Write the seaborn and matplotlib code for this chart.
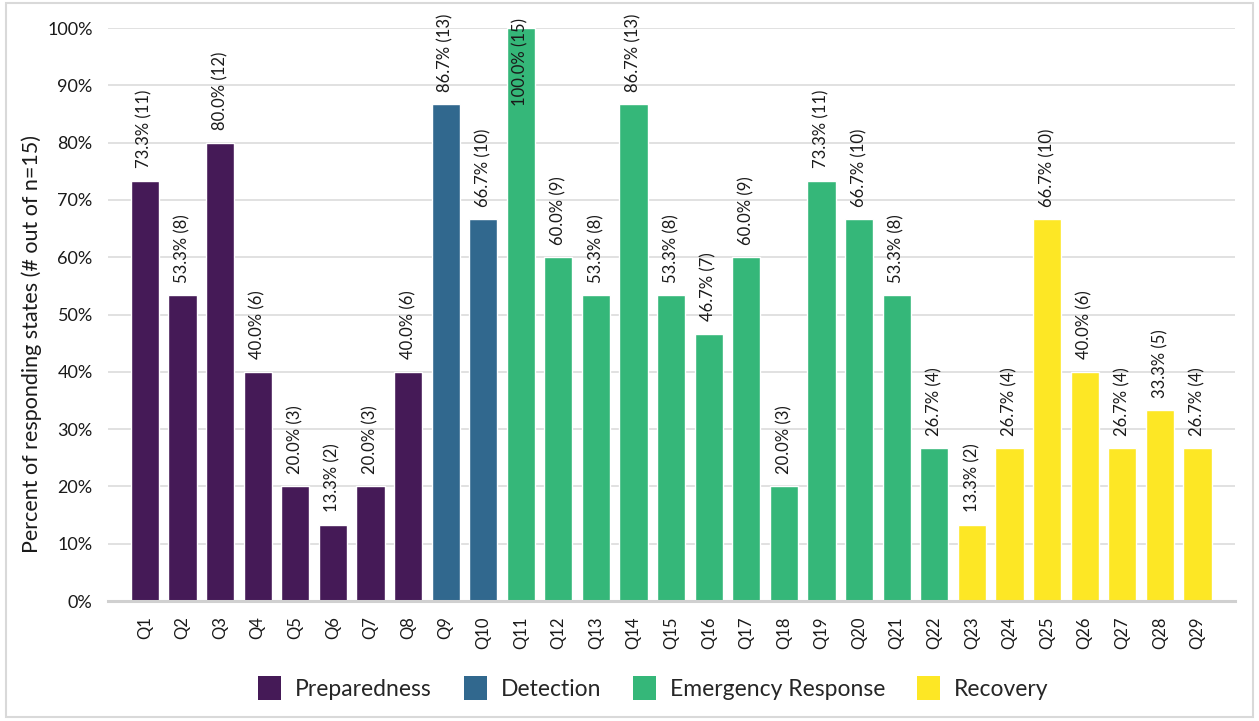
import matplotlib
matplotlib.use("Agg")
import matplotlib.pyplot as plt
import seaborn as sns
import pandas as pd
from matplotlib.patches import Patch, Rectangle

# Survey results: number of states (out of 15) answering yes to each question
questions = [f"Q{i}" for i in range(1, 30)]
counts = [11, 8, 12, 6, 3, 2, 3, 6,
          13, 10,
          15, 9, 8, 13, 8, 7, 9, 3, 11, 10, 8, 4,
          2, 4, 10, 6, 4, 5, 4]
n_states = 15
phases = (["Preparedness"] * 8 + ["Detection"] * 2 +
          ["Emergency Response"] * 12 + ["Recovery"] * 7)
phase_order = ["Preparedness", "Detection", "Emergency Response", "Recovery"]
phase_colors = ["#451a57", "#31688e", "#35b779", "#fde725"]

df = pd.DataFrame({
    "question": questions,
    "count": counts,
    "phase": phases,
})
df["pct"] = df["count"] / n_states * 100

sns.set_theme(style="white")
plt.rcParams["font.family"] = ["Lato", "DejaVu Sans"]

fig = plt.figure(figsize=(12.59, 7.21), dpi=100)
ax = fig.add_axes([0.0858, 0.1664, 0.8952, 0.7947])

sns.barplot(data=df, x="question", y="pct", hue="phase", hue_order=phase_order,
            palette=phase_colors, dodge=False, width=0.75, saturation=1,
            legend=False, ax=ax)

ax.set_ylim(0, 100)
ax.set_xlim(-0.98, 29.0)
ax.set_yticks(range(0, 101, 10))
ax.set_yticklabels([f"{t}%" for t in range(0, 101, 10)], fontsize=13, color="#1a1a1a")
ax.tick_params(axis="x", labelrotation=90, labelsize=12, colors="#1a1a1a", length=0, pad=11)
ax.tick_params(axis="y", length=0, pad=11)
ax.set_xlabel("")
ax.set_ylabel("Percent of responding states (# out of n=15)", fontsize=15.5,
              color="#1a1a1a")
ax.yaxis.set_label_coords(-0.0586, 0.449)

ax.yaxis.grid(True, color="#d9d9d9", linewidth=1.1)
ax.set_axisbelow(True)
for side in ["top", "right", "left"]:
    ax.spines[side].set_visible(False)
ax.spines["bottom"].set_color("#d0d0d0")
ax.spines["bottom"].set_linewidth(2.2)

# Value labels above each bar; a full-height bar gets its label pulled down onto the bar
for i, (pct, c) in enumerate(zip(df["pct"], df["count"])):
    label = f"{pct:.1f}% ({c})"
    if pct >= 99.9:
        ax.annotate(label, (i, pct), xytext=(0, 7), textcoords="offset points",
                    rotation=90, ha="center", va="top", fontsize=12, color="#1a1a1a",
                    annotation_clip=False)
    else:
        ax.annotate(label, (i, pct), xytext=(0, 9), textcoords="offset points",
                    rotation=90, ha="center", va="bottom", fontsize=12,
                    color="#1a1a1a", annotation_clip=False)

handles = [Patch(facecolor=c, edgecolor="none") for c in phase_colors]
fig.legend(handles, phase_order, loc="center", bbox_to_anchor=(0.519, 0.0458),
           ncol=4, frameon=False, fontsize=16.5, handlelength=1.0, handleheight=1.2,
           handletextpad=0.6, columnspacing=1.4)

# Light frame around the whole figure
fig.patches.append(Rectangle((0.005, 0.006), 0.99, 0.99, transform=fig.transFigure,
                             fill=False, edgecolor="#d9d9d9", linewidth=1.5))

fig.savefig("out.png", dpi=100)
